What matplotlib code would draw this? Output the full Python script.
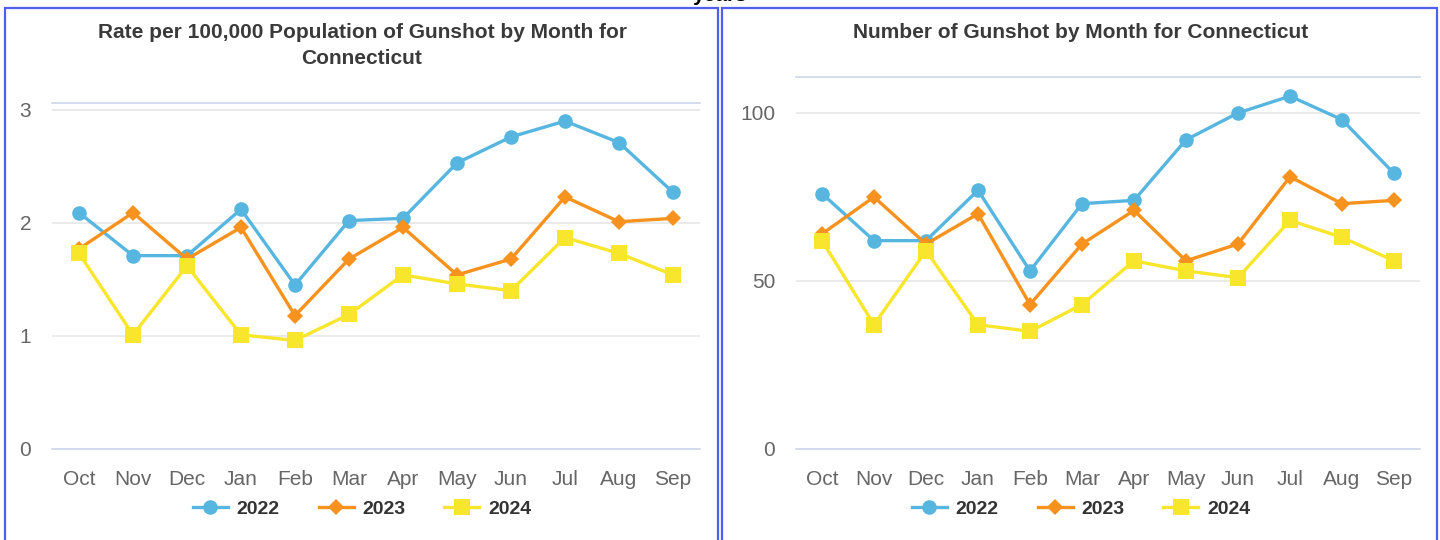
import matplotlib.pyplot as plt
from matplotlib.patches import Rectangle

months = ['Oct', 'Nov', 'Dec', 'Jan', 'Feb', 'Mar', 'Apr', 'May', 'Jun', 'Jul', 'Aug', 'Sep']
years = ['2022', '2023', '2024']

# tasa por 100,000 habitantes
rate_2022 = [2.09, 1.71, 1.71, 2.12, 1.45, 2.02, 2.04, 2.53, 2.76, 2.90, 2.71, 2.27]
rate_2023 = [1.77, 2.09, 1.68, 1.96, 1.18, 1.68, 1.96, 1.54, 1.68, 2.23, 2.01, 2.04]
rate_2024 = [1.73, 1.01, 1.62, 1.01, 0.96, 1.19, 1.54, 1.46, 1.40, 1.87, 1.73, 1.54]

# numero de casos
count_2022 = [76, 62, 62, 77, 53, 73, 74, 92, 100, 105, 98, 82]
count_2023 = [64, 75, 61, 70, 43, 61, 71, 56, 61, 81, 73, 74]
count_2024 = [62, 37, 59, 37, 35, 43, 56, 53, 51, 68, 63, 56]

colors = ['#57b6e0', '#f7921e', '#f8e62c']
markers = ['o', 'D', 's']
msizes = [10.5, 8, 11]

plt.rcParams['font.family'] = ['Liberation Sans', 'DejaVu Sans']

fig = plt.figure(figsize=(14.4, 5.4), dpi=100)

# marcos azules de cada panel
for x0, x1 in [(5, 718), (722, 1437)]:
    fig.patches.append(Rectangle((x0 / 1440, -0.05), (x1 - x0) / 1440, 1 - 8 / 540 + 0.05,
                                 transform=fig.transFigure, fill=False,
                                 edgecolor='#4f5ff0', linewidth=1.6))

fig.text(0.5, 1 - 1 / 540, 'years', ha='center', va='baseline',
         fontsize=15, fontweight='bold', color='black')


def draw_panel(rect, series, ymax, yticks, title, center_x):
    ax = fig.add_axes(rect)
    x = range(len(months))
    handles = []
    for vals, c, m, ms, lab in zip(series, colors, markers, msizes, years):
        h, = ax.plot(x, vals, color=c, linewidth=2.4, marker=m, markersize=ms,
                     markeredgewidth=0, label=lab)
        handles.append(h)
    ax.set_xlim(-0.5, len(months) - 0.5)
    ax.set_ylim(0, ymax)
    ax.set_xticks(list(x))
    ax.set_xticklabels(months)
    ax.set_yticks(yticks)
    ax.tick_params(axis='x', length=0, pad=15, labelsize=15, labelcolor='#666666')
    ax.tick_params(axis='y', length=0, pad=15, labelsize=15, labelcolor='#666666')
    ax.grid(axis='y', color='#e6e6e6', linewidth=1.2)
    ax.set_axisbelow(True)
    for s in ['left', 'right']:
        ax.spines[s].set_visible(False)
    for s in ['top', 'bottom']:
        ax.spines[s].set_color('#ccd6eb')
        ax.spines[s].set_linewidth(1.2)
    fig.legend(handles=handles, loc='center', bbox_to_anchor=(center_x, 1 - 509 / 540),
               ncol=3, frameon=False, handlelength=1.8, columnspacing=2.0,
               prop={'weight': 'bold', 'size': 14}, labelcolor='#333333',
               handletextpad=0.45)
    lines = title.split('\n')
    for i, line in enumerate(lines):
        fig.text(center_x, 1 - (33 + 26 * i) / 540, line, ha='center', va='center',
                 fontsize=15, fontweight='bold', color='#3a3a3a')
    return ax


draw_panel([52 / 1440, 1 - 449 / 540, 648 / 1440, 346 / 540],
           [rate_2022, rate_2023, rate_2024], 3.06, [0, 1, 2, 3],
           'Rate per 100,000 Population of Gunshot by Month for\nConnecticut', 362 / 1440)
draw_panel([796 / 1440, 1 - 449 / 540, 624 / 1440, 372 / 540],
           [count_2022, count_2023, count_2024], 110.7, [0, 50, 100],
           'Number of Gunshot by Month for Connecticut', 1081 / 1440)

fig.savefig('out.png', dpi=100)
